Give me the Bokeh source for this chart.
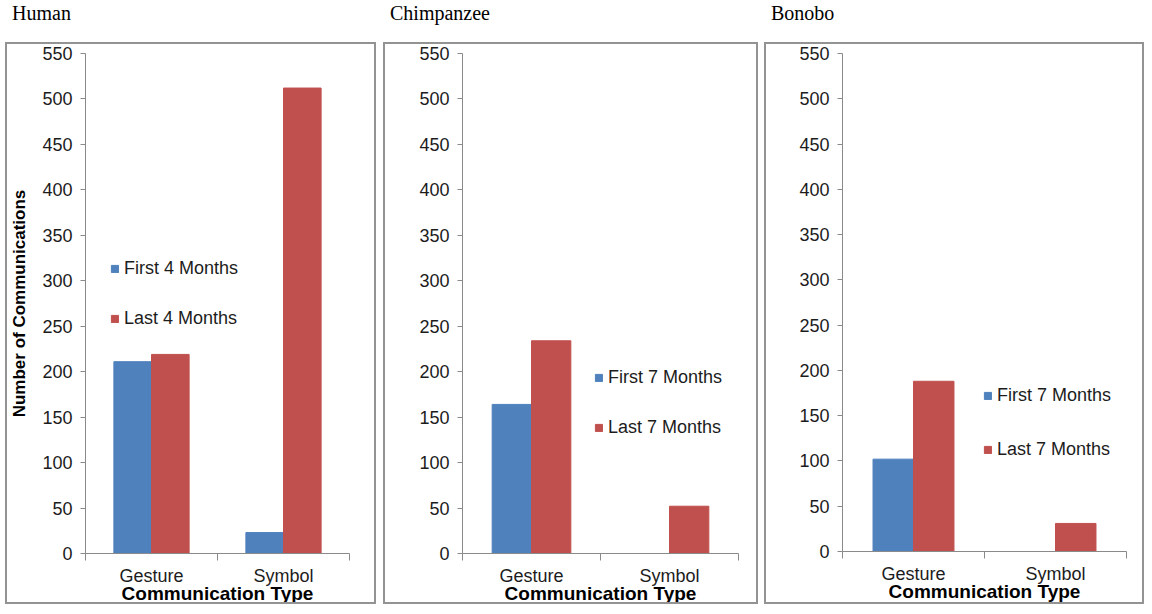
from bokeh.plotting import figure
from bokeh.models import Range1d, FixedTicker, Div
from bokeh.layouts import row, column
from bokeh.embed import file_html
from bokeh.resources import INLINE

categories = ["Gesture", "Symbol"]
y_ticks = [0, 50, 100, 150, 200, 250, 300, 350, 400, 450, 500, 550]

human_first = [211, 23]
human_last = [219, 512]
chimp_first = [164, 0]
chimp_last = [234, 52]
bonobo_first = [102, 0]
bonobo_last = [188, 31]

titles = ["Human", "Chimpanzee", "Bonobo"]
human_labels = ["First 4 Months", "Last 4 Months"]
ape_labels = ["First 7 Months", "Last 7 Months"]

BLUE = "#4F81BD"
RED = "#C0504D"
AXIS = "#8a8a8a"
BOX = "#939393"
TXT = "#1c1c1c"
FONT = "Liberation Sans"
BW = 2          # panel border width (px)
BOX_H = 566     # outer height of each bordered panel
TITLE_H = 42


def panel(title, first, last, labels, box_w, left, right, top, bottom,
          legend_xy, legend_spacing, gap, ylabel=None):
    p = figure(width=box_w - 2 * BW, height=BOX_H - 2 * BW,
               x_range=Range1d(0, len(categories)), y_range=Range1d(0, 550),
               output_backend="svg", toolbar_location=None,
               min_border_left=left, min_border_right=right,
               min_border_top=top, min_border_bottom=bottom,
               background_fill_color="white", border_fill_color="white",
               margin=0,
               styles={"border": f"{BW}px solid {BOX}"})
    p.outline_line_color = None
    p.xgrid.visible = False
    p.ygrid.visible = False

    xs = [i + 0.5 for i in range(len(categories))]
    bw = 0.285
    p.vbar(x=[x - bw / 2 for x in xs], top=first, width=bw,
           fill_color=BLUE, line_color=BLUE, legend_label=labels[0])
    p.vbar(x=[x + bw / 2 for x in xs], top=last, width=bw,
           fill_color=RED, line_color=RED, legend_label=labels[1])

    # y axis
    ya = p.yaxis[0]
    ya.ticker = FixedTicker(ticks=y_ticks)
    ya.axis_line_color = AXIS
    ya.major_tick_line_color = AXIS
    ya.major_tick_in = 0
    ya.major_tick_out = 5
    ya.minor_tick_line_color = None
    ya.major_label_text_font = FONT
    ya.major_label_text_font_size = "18px"
    ya.major_label_text_color = TXT
    ya.major_label_standoff = 8
    if ylabel:
        ya.axis_label = ylabel
        ya.axis_label_text_font = FONT
        ya.axis_label_text_font_size = "17px"
        ya.axis_label_text_font_style = "bold"
        ya.axis_label_text_color = "black"
        ya.axis_label_standoff = 10

    # x axis
    xa = p.xaxis[0]
    xa.ticker = FixedTicker(ticks=xs, minor_ticks=list(range(len(categories) + 1)))
    xa.major_label_overrides = {x: c for x, c in zip(xs, categories)}
    xa.axis_line_color = AXIS
    xa.major_tick_line_color = None
    xa.major_tick_in = 0
    xa.major_tick_out = 0
    xa.minor_tick_line_color = AXIS
    xa.minor_tick_in = 0
    xa.minor_tick_out = 7
    xa.major_label_text_font = FONT
    xa.major_label_text_font_size = "18px"
    xa.major_label_text_color = TXT
    xa.major_label_standoff = 5
    xa.axis_label = "Communication Type"
    xa.axis_label_text_font = FONT
    xa.axis_label_text_font_size = "19px"
    xa.axis_label_text_font_style = "bold"
    xa.axis_label_text_color = "black"
    xa.axis_label_standoff = -6

    lg = p.legend[0]
    lg.location = legend_xy
    lg.border_line_color = None
    lg.background_fill_alpha = 0
    lg.padding = 0
    lg.margin = 0
    lg.glyph_width = 9
    lg.glyph_height = 9
    lg.label_text_font = FONT
    lg.label_text_font_size = "18px"
    lg.label_text_color = TXT
    lg.label_standoff = 5
    lg.spacing = legend_spacing

    d = Div(text=('<div style="margin:0;padding:3px 0 0 7px;line-height:20px;'
                  'font-family:\'Liberation Serif\',\'DejaVu Serif\',serif;'
                  'font-size:20px;color:#000;white-space:nowrap;">'
                  + title + '</div>'),
            width=box_w, height=TITLE_H, margin=0)
    return column(d, p, spacing=0, margin=(0, 0, 0, gap))


c1 = panel(titles[0], human_first, human_last, human_labels, 375, 76, 29, 9, 51,
           (25, 224), 29, 5, ylabel="Number of Communications")
c2 = panel(titles[1], chimp_first, chimp_last, ape_labels, 379, 77, 22, 9, 53,
           (132, 115), 29, 3)
c3 = panel(titles[2], bonobo_first, bonobo_last, ape_labels, 384, 76, 20, 9, 55,
           (141, 91), 33, 2)

layout = row(c1, c2, c3, spacing=0, margin=0)

open("out.html", "w").write(file_html(layout, INLINE))
